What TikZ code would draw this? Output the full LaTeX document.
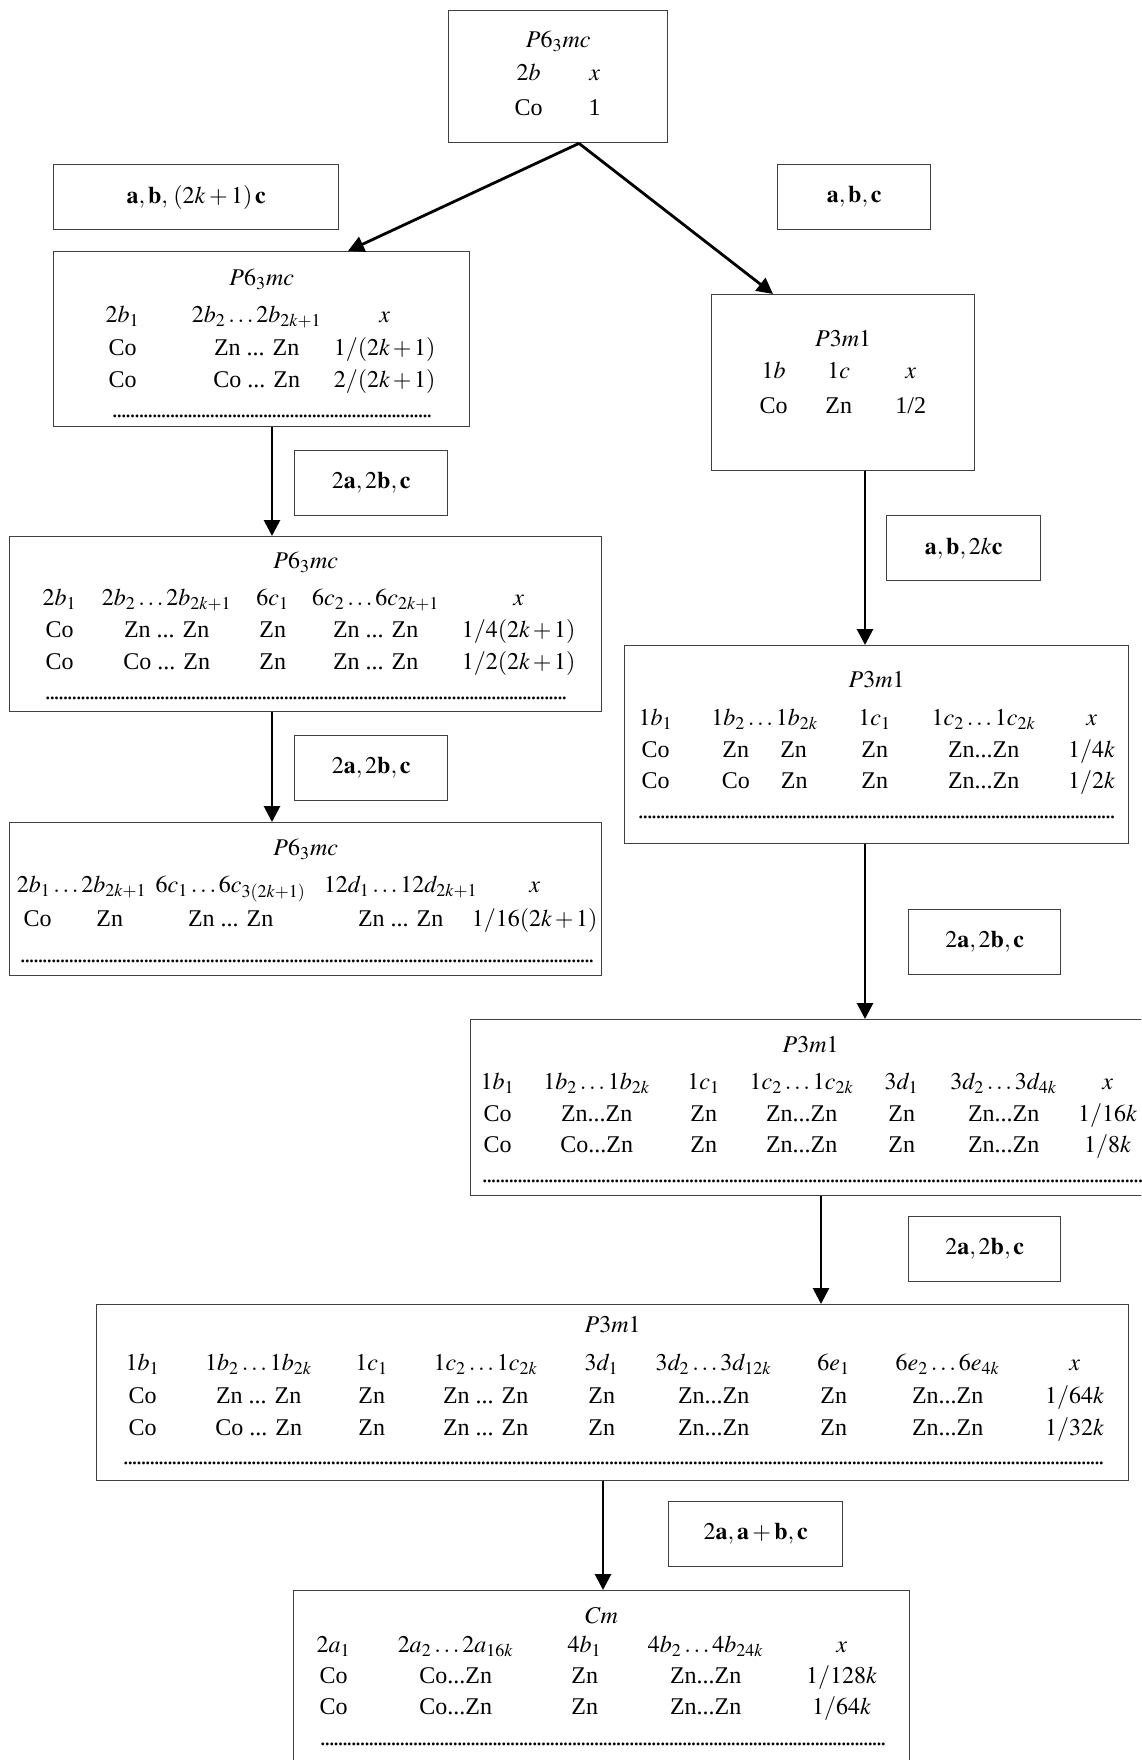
\documentclass[tikz,border=0pt]{standalone}
\usepackage{mathptmx}
\usepackage{fontspec}
\setmainfont{Liberation Serif}
\usepackage{array}
\usetikzlibrary{arrows.meta}
\usetikzlibrary{positioning}
\newcolumntype{C}[1]{>{\hbox to #1\bgroup\hss}c<{\hss\egroup}}
\newcommand{\dotrow}[1]{\hbox to #1{\fontsize{12}{12}\selectfont\xleaders\hbox to 2.2pt{\hss.\hss}\hfill}}
\newcommand{\kk}[1]{(2k\,{+}\,#1)}
\setlength{\tabcolsep}{0pt}
\tikzstyle{sgbox} = [draw=black!75, line width=0.7pt, inner sep=0pt, anchor=north west, font=\fontsize{12}{16}\selectfont]
\tikzstyle{tfbox} = [draw=black!75, line width=0.7pt, inner sep=0pt, anchor=north west, minimum height=32.5pt, font=\fontsize{12}{16}\selectfont]
\tikzstyle{arr} = [-{Triangle[length=8pt,width=8pt]}, line width=1.4pt]

\begin{document}
\begin{tikzpicture}[x=0.5pt, y=-0.5pt]
  \clip (0,0) rectangle (1141,1760);

  % space groups
  \node[sgbox, minimum width=109.5pt, text height=18.5pt, text depth=47.5pt] (top) at (448,10) {%
    \begin{tabular}[t]{@{\hspace{23.5pt}}C{33pt}C{33pt}@{\hspace{20pt}}}
      \multicolumn{2}{@{}c@{}}{$P6_3mc$}\\[0.5pt]
      $2b$ & $x$\\[1.5pt]
      Co & 1
    \end{tabular}};

  \node[sgbox, minimum width=208pt, text height=17pt, text depth=70.5pt] (l1) at (53,251) {%
    \begin{tabular}[t]{@{}C{69pt}C{65pt}C{63pt}@{\hspace{11pt}}}
      \multicolumn{3}{@{}c@{}}{$P6_3mc$}\\[2.5pt]
      $2b_1$ & $2b_2\ldots 2b_{2k+1}$ & $x$\\[0.5pt]
      Co & Zn ... Zn & $1/\kk{1}$\\
      Co & Co ... Zn & $2/\kk{1}$\\[-1pt]
      \multicolumn{3}{@{}l@{}}{\hspace{29.5pt}\dotrow{159.5pt}}
    \end{tabular}};

  \node[sgbox, minimum width=296pt, text height=16pt, text depth=71.5pt] (l2) at (9,536) {%
    \begin{tabular}[t]{@{\hspace{3pt}}C{44pt}C{63pt}C{43pt}C{60pt}C{83pt}@{}}
      \multicolumn{5}{@{}c@{}}{$P6_3mc$}\\[2.5pt]
      $2b_1$ & $2b_2\ldots 2b_{2k+1}$ & $6c_1$ & $6c_2\ldots 6c_{2k+1}$ & $x$\\
      Co & Zn ... Zn & Zn & Zn ... Zn & $1/4\kk{1}$\\
      Co & Co ... Zn & Zn & Zn ... Zn & $1/2\kk{1}$\\[-1pt]
      \multicolumn{5}{@{}l@{}}{\hspace{18pt}\dotrow{260.5pt}}
    \end{tabular}};

  \node[sgbox, minimum width=296pt, text height=16.5pt, text depth=60pt] (l3) at (9,822) {%
    \begin{tabular}[t]{@{}C{28pt}C{44pt}C{77pt}C{93pt}C{41pt}@{\hspace{13pt}}}
      \multicolumn{5}{@{}c@{}}{$P6_3mc$}\\[2.5pt]
      \multicolumn{2}{@{}c@{}}{$2b_1\ldots 2b_{2k+1}$} & $6c_1\ldots 6c_{3(2k+1)}$ & $12d_1\ldots 12d_{2k+1}$ & $x$\\[1pt]
      Co & Zn & Zn ... Zn & Zn ... Zn & $1/16\kk{1}$\\[2pt]
      \multicolumn{5}{@{}l@{}}{\hspace{5.5pt}\dotrow{286.5pt}}
    \end{tabular}};

  \node[sgbox, minimum width=131.5pt, text height=26pt, text depth=62pt] (r1) at (711,294) {%
    \begin{tabular}[t]{@{\hspace{14.5pt}}C{33pt}C{32pt}C{40pt}@{\hspace{12pt}}}
      \multicolumn{3}{@{}c@{}}{$P3m1$}\\
      $1b$ & $1c$ & $x$\\[1.5pt]
      Co & Zn & 1/2
    \end{tabular}};

  \node[sgbox, minimum width=252pt, text height=21pt, text depth=78pt] (r2) at (624,645) {%
    \begin{tabular}[t]{@{}C{31pt}C{78pt}C{32pt}C{77pt}C{31pt}@{\hspace{3pt}}}
      \multicolumn{5}{@{}c@{}}{$P3m1$}\\[3pt]
      $1b_1$ & $1b_2\ldots 1b_{2k}$ & $1c_1$ & $1c_2\ldots 1c_{2k}$ & $x$\\
      Co & Zn\hspace{1.3em}Zn & Zn & Zn...Zn & $1/4k$\\[-0.5pt]
      Co & Co\hspace{1.3em}Zn & Zn & Zn...Zn & $1/2k$\\[-1pt]
      \multicolumn{5}{@{}l@{}}{\hspace{7pt}\dotrow{238pt}}
    \end{tabular}};

  \node[sgbox, minimum width=340pt, text height=16.5pt, text depth=71.5pt] (r3) at (470,1019) {%
    \begin{tabular}[t]{@{}C{27pt}C{72pt}C{35pt}C{63pt}C{37pt}C{65pt}C{39pt}@{\hspace{2pt}}}
      \multicolumn{7}{@{}c@{}}{$P3m1$}\\[2.5pt]
      $1b_1$ & $1b_2\ldots 1b_{2k}$ & $1c_1$ & $1c_2\ldots 1c_{2k}$ & $3d_1$ & $3d_2\ldots 3d_{4k}$ & $x$\\
      Co & Zn...Zn & Zn & Zn...Zn & Zn & Zn...Zn & $1/16k$\\[-0.5pt]
      Co & Co...Zn & Zn & Zn...Zn & Zn & Zn...Zn & $1/8k$\\[-1pt]
      \multicolumn{7}{@{}l@{}}{\hspace{6pt}\dotrow{330pt}}
    \end{tabular}};

  \node[sgbox, minimum width=516pt, text height=14pt, text depth=74pt] (r4) at (96,1304) {%
    \begin{tabular}[t]{@{\hspace{6pt}}C{34pt}C{82pt}C{31pt}C{83pt}C{33pt}C{79pt}C{41pt}C{73pt}C{54pt}@{}}
      \multicolumn{9}{@{}c@{}}{$P3m1$}\\[3pt]
      $1b_1$ & $1b_2\ldots 1b_{2k}$ & $1c_1$ & $1c_2\ldots 1c_{2k}$ & $3d_1$ & $3d_2\ldots 3d_{12k}$ & $6e_1$ & $6e_2\ldots 6e_{4k}$ & $x$\\[0.5pt]
      Co & Zn ... Zn & Zn & Zn ... Zn & Zn & Zn...Zn & Zn & Zn...Zn & $1/64k$\\
      Co & Co ... Zn & Zn & Zn ... Zn & Zn & Zn...Zn & Zn & Zn...Zn & $1/32k$\\[-1.5pt]
      \multicolumn{9}{@{}l@{}}{\hspace{13.5pt}\dotrow{490pt}}
    \end{tabular}};

  \node[sgbox, minimum width=308pt, text height=16.5pt, text depth=90pt] (cm) at (293,1590) {%
    \begin{tabular}[t]{@{}C{40pt}C{82pt}C{47pt}C{74pt}C{62pt}@{\hspace{3pt}}}
      \multicolumn{5}{@{}c@{}}{$Cm$}\\[-1.5pt]
      $2a_1$ & $2a_2\ldots 2a_{16k}$ & $4b_1$ & $4b_2\ldots 4b_{24k}$ & $x$\\[-0.5pt]
      Co & Co...Zn & Zn & Zn...Zn & $1/128k$\\[-0.5pt]
      Co & Co...Zn & Zn & Zn...Zn & $1/64k$\\[-0.5pt]
      \multicolumn{5}{@{}l@{}}{\hspace{13.5pt}\dotrow{282.5pt}}
    \end{tabular}};

  % basis transformations
  \node[tfbox, minimum width=142.5pt] (tf1) at (53,164) {$\mathbf{a},\mathbf{b},\,(2k+1)\,\mathbf{c}$};
  \node[tfbox, minimum width=76.5pt] (tf2) at (777,164) {$\mathbf{a},\mathbf{b},\mathbf{c}$};
  \node[tfbox, minimum width=76.5pt] (tf3) at (294,450) {$2\mathbf{a},2\mathbf{b},\mathbf{c}$};
  \node[tfbox, minimum width=77pt] (tf4) at (886,515) {$\mathbf{a},\mathbf{b},2k\mathbf{c}$};
  \node[tfbox, minimum width=76.5pt] (tf5) at (294,735) {$2\mathbf{a},2\mathbf{b},\mathbf{c}$};
  \node[tfbox, minimum width=76pt] (tf6) at (908,909) {$2\mathbf{a},2\mathbf{b},\mathbf{c}$};
  \node[tfbox, minimum width=76pt] (tf7) at (908,1216) {$2\mathbf{a},2\mathbf{b},\mathbf{c}$};
  \node[tfbox, minimum width=87pt] (tf8) at (668,1501) {$2\mathbf{a},\mathbf{a}+\mathbf{b},\mathbf{c}$};

  \coordinate (fork) at (579,0);
  \coordinate (tipl) at (348,0);
  \coordinate (tipr) at (773,0);
  \coordinate (axl) at (272,0);
  \coordinate (axr) at (865,0);
  \coordinate (axm) at (821,0);
  \coordinate (axc) at (603,0);

  \draw[arr] (top.south -| fork) -- (l1.north -| tipl);
  \draw[arr] (top.south -| fork) -- (r1.north -| tipr);
  \draw[arr] (l1.south -| axl) -- (l2.north -| axl);
  \draw[arr] (l2.south -| axl) -- (l3.north -| axl);
  \draw[arr] (r1.south -| axr) -- (r2.north -| axr);
  \draw[arr] (r2.south -| axr) -- (r3.north -| axr);
  \draw[arr] (r3.south -| axm) -- (r4.north -| axm);
  \draw[arr] (r4.south -| axc) -- (cm.north -| axc);
\end{tikzpicture}
\end{document}
